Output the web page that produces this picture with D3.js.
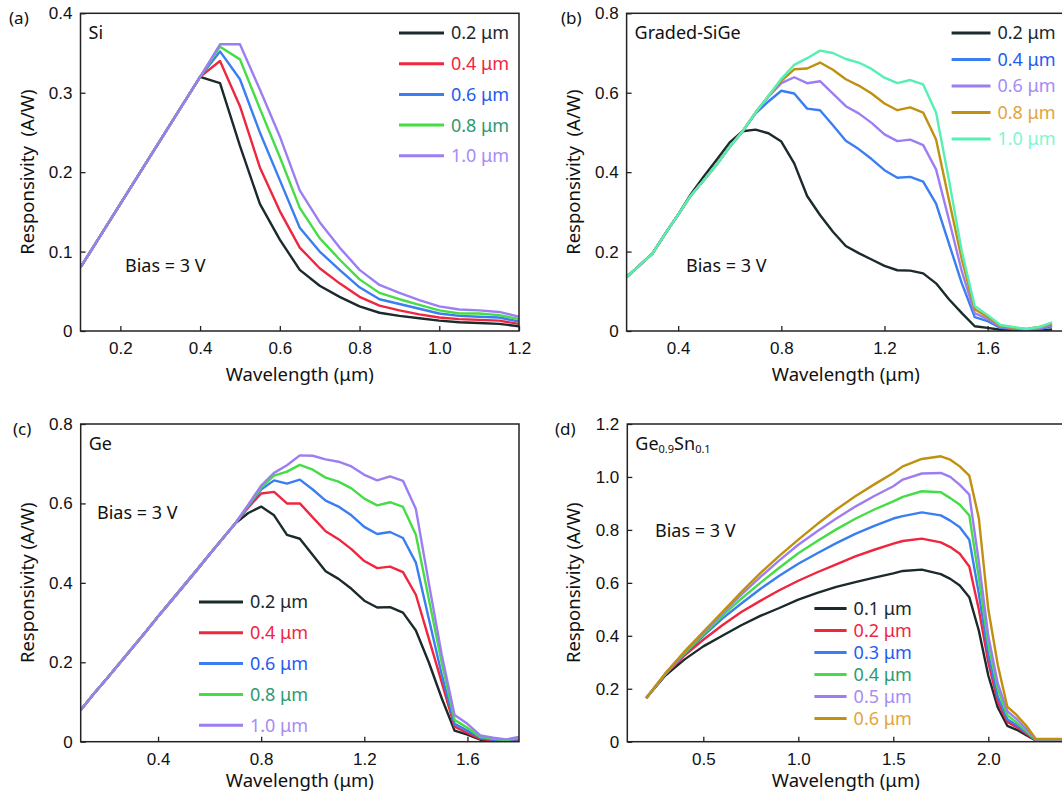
<!DOCTYPE html>
<html><head><meta charset="utf-8">
<script src="https://cdn.jsdelivr.net/npm/d3@7"></script>
<style>
html,body{margin:0;padding:0;background:#fff;}
svg{display:block;font-family:"Noto Sans","Open Sans",sans-serif;}
</style></head>
<body><svg id="chart" width="1062" height="796"></svg>
<script>
// ---------- Panel (a): Si ----------
const wlA = [0.1,0.15,0.2,0.25,0.3,0.35,0.4,0.45,0.5,0.55,0.6,0.65,0.7,0.75,0.8,0.85,0.9,0.95,1.0,1.05,1.1,1.15,1.2];
const siLabels = ["0.2 μm","0.4 μm","0.6 μm","0.8 μm","1.0 μm"];
const si02 = [0.08,0.12,0.16,0.2,0.24,0.28,0.32,0.312,0.233,0.16,0.115,0.077,0.057,0.043,0.031,0.023,0.019,0.016,0.013,0.011,0.010,0.009,0.006];
const si04 = [0.08,0.12,0.16,0.2,0.24,0.28,0.32,0.34,0.283,0.206,0.151,0.105,0.079,0.06,0.043,0.032,0.026,0.021,0.017,0.015,0.014,0.013,0.009];
const si06 = [0.08,0.12,0.16,0.2,0.24,0.28,0.32,0.352,0.317,0.25,0.19,0.13,0.1,0.077,0.055,0.04,0.034,0.028,0.022,0.019,0.018,0.017,0.012];
const si08 = [0.08,0.12,0.16,0.2,0.24,0.28,0.32,0.358,0.342,0.28,0.219,0.155,0.117,0.09,0.065,0.048,0.04,0.033,0.026,0.022,0.022,0.02,0.015];
const si10 = [0.08,0.12,0.16,0.2,0.24,0.28,0.32,0.361,0.361,0.304,0.245,0.177,0.137,0.105,0.077,0.058,0.048,0.039,0.031,0.027,0.026,0.024,0.018];
const xTicksA = [0.2,0.4,0.6,0.8,1.0,1.2];
const yTicksA = [0,0.1,0.2,0.3,0.4];

// ---------- Panel (b): Graded-SiGe ----------
const wlB = [0.2,0.25,0.3,0.35,0.4,0.45,0.5,0.55,0.6,0.65,0.7,0.75,0.8,0.85,0.9,0.95,1.0,1.05,1.1,1.15,1.2,1.25,1.3,1.35,1.4,1.45,1.5,1.55,1.6,1.65,1.7,1.75,1.8,1.85];
const sgLabels = ["0.2 μm","0.4 μm","0.6 μm","0.8 μm","1.0 μm"];
const sg02 = [0.136,0.165,0.195,0.245,0.293,0.345,0.39,0.432,0.475,0.503,0.507,0.498,0.477,0.422,0.34,0.292,0.25,0.214,0.196,0.18,0.164,0.153,0.152,0.145,0.12,0.08,0.045,0.012,0.008,0.003,0.002,0.001,0.001,0.004];
const sg04 = [0.136,0.165,0.195,0.245,0.293,0.342,0.38,0.42,0.464,0.503,0.548,0.578,0.605,0.598,0.56,0.556,0.518,0.479,0.458,0.433,0.405,0.386,0.388,0.376,0.321,0.22,0.12,0.035,0.025,0.008,0.005,0.003,0.005,0.012];
const sg06 = [0.136,0.165,0.195,0.245,0.293,0.342,0.38,0.42,0.464,0.503,0.55,0.59,0.624,0.639,0.624,0.629,0.598,0.566,0.548,0.524,0.495,0.478,0.482,0.468,0.407,0.28,0.15,0.045,0.03,0.01,0.007,0.004,0.007,0.015];
const sg08 = [0.136,0.165,0.195,0.245,0.293,0.342,0.38,0.42,0.464,0.503,0.55,0.592,0.63,0.659,0.661,0.676,0.658,0.634,0.618,0.598,0.573,0.556,0.563,0.55,0.482,0.33,0.18,0.055,0.035,0.012,0.008,0.005,0.01,0.018];
const sg10 = [0.136,0.165,0.195,0.245,0.293,0.342,0.38,0.42,0.464,0.503,0.55,0.592,0.635,0.67,0.687,0.706,0.7,0.685,0.676,0.66,0.638,0.624,0.632,0.621,0.55,0.38,0.2,0.063,0.04,0.015,0.01,0.005,0.01,0.022];
const xTicksB = [0.4,0.8,1.2,1.6];
const yTicksB = [0,0.2,0.4,0.6,0.8];

// ---------- Panel (c): Ge ----------
const wlC = [0.1,0.15,0.2,0.25,0.3,0.35,0.4,0.45,0.5,0.55,0.6,0.65,0.7,0.75,0.8,0.85,0.9,0.95,1.0,1.05,1.1,1.15,1.2,1.25,1.3,1.35,1.4,1.45,1.5,1.55,1.6,1.65,1.7,1.75,1.8];
const geLabels = ["0.2 μm","0.4 μm","0.6 μm","0.8 μm","1.0 μm"];
const ge02 = [0.08,0.12,0.158,0.197,0.236,0.275,0.315,0.354,0.393,0.432,0.472,0.511,0.55,0.576,0.592,0.57,0.521,0.511,0.47,0.429,0.41,0.385,0.355,0.338,0.339,0.325,0.28,0.2,0.11,0.028,0.018,0.005,0.002,0.001,0.002];
const ge04 = [0.08,0.12,0.158,0.197,0.236,0.275,0.315,0.354,0.393,0.432,0.472,0.511,0.55,0.59,0.625,0.629,0.6,0.6,0.565,0.53,0.51,0.485,0.455,0.437,0.441,0.427,0.37,0.26,0.15,0.038,0.022,0.007,0.003,0.002,0.004];
const ge06 = [0.08,0.12,0.158,0.197,0.236,0.275,0.315,0.354,0.393,0.432,0.472,0.511,0.55,0.593,0.635,0.658,0.65,0.66,0.635,0.607,0.592,0.57,0.541,0.523,0.528,0.513,0.451,0.31,0.17,0.045,0.028,0.01,0.005,0.003,0.007];
const ge08 = [0.08,0.12,0.158,0.197,0.236,0.275,0.315,0.354,0.393,0.432,0.472,0.511,0.55,0.595,0.64,0.67,0.68,0.697,0.685,0.665,0.655,0.638,0.612,0.595,0.603,0.591,0.521,0.36,0.2,0.055,0.035,0.012,0.007,0.004,0.009];
const ge10 = [0.08,0.12,0.158,0.197,0.236,0.275,0.315,0.354,0.393,0.432,0.472,0.511,0.55,0.597,0.645,0.677,0.696,0.721,0.72,0.711,0.705,0.693,0.672,0.658,0.668,0.657,0.586,0.4,0.22,0.067,0.045,0.016,0.01,0.006,0.012];
const xTicksC = [0.4,0.8,1.2,1.6];
const yTicksC = [0,0.2,0.4,0.6,0.8];

// ---------- Panel (d): Ge0.9Sn0.1 ----------
const wlD = [0.2,0.3,0.4,0.5,0.6,0.7,0.8,0.9,1.0,1.1,1.2,1.3,1.4,1.5,1.55,1.65,1.75,1.8,1.85,1.9,1.95,2.0,2.05,2.1,2.15,2.2,2.25,2.3,2.4];
const gsLabels = ["0.1 μm","0.2 μm","0.3 μm","0.4 μm","0.5 μm","0.6 μm"];
const gs01 = [0.165,0.25,0.31,0.36,0.4,0.44,0.475,0.505,0.537,0.562,0.585,0.603,0.62,0.636,0.645,0.65,0.633,0.615,0.59,0.546,0.42,0.25,0.129,0.06,0.045,0.025,0.005,0.005,0.005];
const gs02 = [0.165,0.255,0.325,0.385,0.44,0.49,0.532,0.572,0.608,0.64,0.67,0.7,0.725,0.748,0.758,0.767,0.753,0.735,0.71,0.662,0.5,0.3,0.15,0.075,0.055,0.03,0.005,0.005,0.005];
const gs03 = [0.165,0.255,0.33,0.4,0.465,0.522,0.577,0.627,0.672,0.712,0.75,0.785,0.815,0.843,0.852,0.866,0.855,0.835,0.81,0.763,0.56,0.33,0.17,0.085,0.062,0.035,0.006,0.006,0.006];
const gs04 = [0.165,0.256,0.334,0.405,0.475,0.54,0.6,0.657,0.712,0.758,0.802,0.842,0.877,0.908,0.925,0.946,0.942,0.92,0.895,0.855,0.62,0.37,0.2,0.1,0.072,0.04,0.007,0.007,0.007];
const gs05 = [0.165,0.257,0.337,0.41,0.485,0.555,0.622,0.685,0.744,0.795,0.843,0.888,0.928,0.965,0.99,1.013,1.015,1.0,0.97,0.933,0.68,0.4,0.22,0.115,0.085,0.048,0.008,0.008,0.008];
const gs06 = [0.165,0.258,0.34,0.415,0.49,0.565,0.637,0.702,0.763,0.822,0.877,0.927,0.972,1.015,1.04,1.068,1.078,1.065,1.04,1.005,0.845,0.5,0.29,0.132,0.1,0.06,0.01,0.01,0.01];
const xTicksD = [0.5,1.0,1.5,2.0];
const yTicksD = [0,0.2,0.4,0.6,0.8,1.0,1.2];

// ---------- colours ----------
const C = {
  black:{line:"#1b2a2d",text:"#1b2a2d"},
  red:{line:"#f0263f",text:"#f0263f"},
  blue:{line:"#3a7ef2",text:"#1f5cf0"},
  green:{line:"#45dd45",text:"#2f9a72"},
  purple:{line:"#9c7ef2",text:"#a68cf5"},
  gold:{line:"#c0900f",text:"#e2a53c"},
  aqua:{line:"#55f0b3",text:"#80f5d2"}
};

const svg = d3.select("#chart");
const AX = "#222";

function panel(cfg){
  const x = d3.scaleLinear().domain(cfg.xDomain).range([cfg.left, cfg.right]);
  const y = d3.scaleLinear().domain(cfg.yDomain).range([cfg.bottom, cfg.top]);
  const g = svg.append("g");
  const clipId = "clip" + cfg.id;
  svg.append("clipPath").attr("id", clipId).append("rect")
    .attr("x", cfg.left).attr("y", cfg.top - 10)
    .attr("width", cfg.right - cfg.left).attr("height", cfg.bottom - cfg.top + 10);

  const line = d3.line().x(d => x(d[0])).y(d => y(d[1]));
  const lg = g.append("g").attr("clip-path", `url(#${clipId})`);
  cfg.series.forEach(s => {
    lg.append("path").datum(cfg.wl.map((w,i) => [w, s.values[i]]))
      .attr("d", line).attr("fill","none")
      .attr("stroke", s.color.line).attr("stroke-width", 2.4)
      .attr("stroke-linejoin","round");
  });

  const fmt = d => d === 0 ? "0" : d3.format(".1f")(d);
  const xa = g.append("g").attr("transform", `translate(0,${cfg.bottom})`)
    .call(d3.axisBottom(x).tickValues(cfg.xTicks).tickFormat(fmt).tickSizeInner(-5).tickSizeOuter(0).tickPadding(11));
  const ya = g.append("g").attr("transform", `translate(${cfg.left},0)`)
    .call(d3.axisLeft(y).tickValues(cfg.yTicks).tickFormat(fmt).tickSizeInner(-5).tickSizeOuter(0).tickPadding(8));
  [xa, ya].forEach(a => {
    a.select(".domain").remove();
    a.selectAll(".tick line").attr("stroke", AX).attr("stroke-width", 1.3);
    a.selectAll(".tick text").attr("fill", "#111").style("font-size","17px");
  });
  g.append("rect").attr("x", cfg.left).attr("y", cfg.top)
    .attr("width", cfg.right - cfg.left).attr("height", cfg.bottom - cfg.top)
    .attr("fill","none").attr("stroke", AX).attr("stroke-width", 1.5);

  g.append("text").attr("x", (cfg.left + cfg.right)/2).attr("y", cfg.bottom + cfg.xtOff)
    .attr("text-anchor","middle").style("font-size","18.5px").attr("fill","#111")
    .text("Wavelength (μm)");
  g.append("text").attr("transform", `translate(${cfg.ytX},${(cfg.top+cfg.bottom)/2}) rotate(-90)`)
    .attr("text-anchor","middle").style("font-size","18.5px").attr("fill","#111")
    .attr("xml:space","preserve").style("white-space","pre")
    .text(cfg.yTitle);

  g.append("text").attr("x", cfg.plX).attr("y", cfg.plY).style("font-size","17px").attr("fill","#111").text(cfg.panelLabel);

  const mt = g.append("text").attr("x", cfg.left + 8).attr("y", cfg.top + 26).style("font-size","18px").attr("fill","#111");
  cfg.material.forEach(p => {
    const ts = mt.append("tspan").text(p.t);
    if (p.sub) ts.style("font-size","11px").attr("baseline-shift","-25%");
  });

  g.append("text").attr("x", cfg.biasX).attr("y", cfg.biasY).style("font-size","18px").attr("fill","#111").text("Bias = 3 V");

  cfg.series.forEach((s,i) => {
    const yy = cfg.legY + i*cfg.legStep;
    g.append("line").attr("x1", cfg.legX1).attr("x2", cfg.legX2).attr("y1", yy).attr("y2", yy)
      .attr("stroke", s.color.line).attr("stroke-width", 3);
    g.append("text").attr("x", cfg.legX2 + 7).attr("y", yy).attr("dy","0.36em")
      .style("font-size","18px").attr("fill", s.color.text).text(s.label);
  });
}

panel({id:"a", left:80.5, right:519, top:13.3, bottom:331, xDomain:[0.1,1.2], yDomain:[0,0.4],
  xTicks:xTicksA, yTicks:yTicksA, wl:wlA, xtOff:50,
  series:[si02,si04,si06,si08,si10].map((v,i)=>({values:v,label:siLabels[i],color:[C.black,C.red,C.blue,C.green,C.purple][i]})),
  yTitle:"Responsivity  (A/W)", ytX:34, panelLabel:"(a)", plX:9, plY:24,
  material:[{t:"Si"}], biasX:125, biasY:272,
  legX1:399, legX2:444, legY:33, legStep:30.7});

panel({id:"b", left:626.6, right:1065, top:13.3, bottom:331, xDomain:[0.2,1.9], yDomain:[0,0.8],
  xTicks:xTicksB, yTicks:yTicksB, wl:wlB, xtOff:50,
  series:[sg02,sg04,sg06,sg08,sg10].map((v,i)=>({values:v,label:sgLabels[i],color:[C.black,C.blue,C.purple,C.gold,C.aqua][i]})),
  yTitle:"Responsivity  (A/W)", ytX:580, panelLabel:"(b)", plX:561, plY:24,
  material:[{t:"Graded-SiGe"}], biasX:686, biasY:272,
  legX1:951.6, legX2:990.5, legY:33, legStep:26.5});

panel({id:"c", left:80.7, right:519, top:424, bottom:741.7, xDomain:[0.1,1.8], yDomain:[0,0.8],
  xTicks:xTicksC, yTicks:yTicksC, wl:wlC, xtOff:45,
  series:[ge02,ge04,ge06,ge08,ge10].map((v,i)=>({values:v,label:geLabels[i],color:[C.black,C.red,C.blue,C.green,C.purple][i]})),
  yTitle:"Responsivity (A/W)", ytX:34, panelLabel:"(c)", plX:13, plY:435,
  material:[{t:"Ge"}], biasX:97, biasY:519,
  legX1:199, legX2:243, legY:602, legStep:30.8});

panel({id:"d", left:627.3, right:1064.3, top:424, bottom:741.7, xDomain:[0.1,2.4], yDomain:[0,1.2],
  xTicks:xTicksD, yTicks:yTicksD, wl:wlD, xtOff:45,
  series:[gs01,gs02,gs03,gs04,gs05,gs06].map((v,i)=>({values:v,label:gsLabels[i],color:[C.black,C.red,C.blue,C.green,C.purple,C.gold][i]})),
  yTitle:"Responsivity (A/W)", ytX:580, panelLabel:"(d)", plX:555, plY:435,
  material:[{t:"Ge"},{t:"0.9",sub:true},{t:"Sn"},{t:"0.1",sub:true}], biasX:655, biasY:537,
  legX1:814.4, legX2:846.6, legY:608.6, legStep:22});
</script></body></html>
